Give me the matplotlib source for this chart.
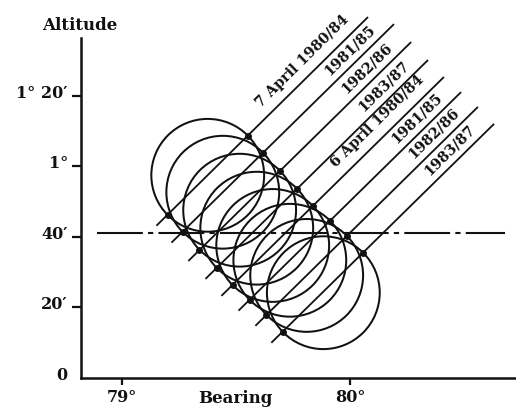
import numpy as np
import matplotlib
matplotlib.use("Agg")
import matplotlib.pyplot as plt
from matplotlib.patches import Ellipse
import matplotlib.transforms as mtransforms

# ---------------- data ----------------
labels = ["7 April 1980/84", "1981/85", "1982/86", "1983/87",
          "6 April 1980/84", "1981/85", "1982/86", "1983/87"]
center_bearing = [79.376, 79.442, 79.516, 79.591, 79.661, 79.736, 79.810, 79.883]
center_alt = [57.5, 52.7, 47.6, 42.5, 37.6, 33.4, 29.1, 24.2]
path_start_bearing = [79.151, 79.217, 79.291, 79.366, 79.436, 79.511, 79.585, 79.655]
path_start_alt = [43.2, 38.4, 33.2, 28.1, 23.3, 19.1, 14.8, 10.0]
path_end_bearing = [80.079, 80.193, 80.268, 80.342, 80.412, 80.487, 80.561, 80.632]
path_end_alt = [102.4, 100.4, 95.3, 90.2, 85.4, 81.1, 76.9, 72.1]
sun_diameter = 32.0          # arcmin
horizon_alt = 41.0           # arcmin
horizon_bearing = [78.89, 80.68]
xticks = [79, 80]
xticklabels = ["79°", "80°"]
yticks = [0, 20, 40, 60, 80]
yticklabels = ["0", "20′", "40′", "1°", "1° 20′"]

# ---------------- figure ----------------
W, H = 516, 412
fig = plt.figure(figsize=(W / 100, H / 100), dpi=100)
ax = fig.add_axes([81 / W, 34 / H, 435 / W, 340 / H])
ax.set_xlim(78.8202, 80.728)
ax.set_ylim(0, 96.45)

font = dict(family="DejaVu Serif", weight="bold")
ink = "#111111"

for s in ["top", "right"]:
    ax.spines[s].set_visible(False)
for s in ["left", "bottom"]:
    ax.spines[s].set_linewidth(1.8)
    ax.spines[s].set_color(ink)

ax.set_xticks(xticks)
ax.set_xticklabels(xticklabels, fontsize=11.5, color=ink, **font)
ax.set_yticks(yticks)
ax.set_yticklabels(yticklabels, fontsize=11.5, color=ink, **font)
ax.tick_params(axis="x", direction="out", length=5, width=1.6, color=ink, pad=3)
ax.tick_params(axis="y", direction="out", length=6.5, width=1.6, color=ink, pad=3)
ax.yaxis.get_major_ticks()[0].tick1line.set_visible(False)
shift = mtransforms.ScaledTranslation(0, 3.5 / 72, fig.dpi_scale_trans)
for lab in ax.get_yticklabels():
    lab.set_transform(lab.get_transform() + shift)

ax.text(-0.002, 1.038, "Altitude", transform=ax.transAxes, ha="center",
        va="center", fontsize=12, color=ink, **font)
ax.text(0.356, -0.059, "Bearing", transform=ax.transAxes, ha="center",
        va="center", fontsize=12, color=ink, clip_on=False, **font)

# horizon (dash-dot)
ax.plot(horizon_bearing, [horizon_alt, horizon_alt], color=ink, lw=1.5,
        linestyle=(0, (22, 2.5, 2.5, 2.5)), clip_on=False)

T = ax.transData
Tinv = T.inverted()
px_deg = T.transform((1, 0))[0] - T.transform((0, 0))[0]
px_min = T.transform((0, 1))[1] - T.transform((0, 0))[1]
R_px = sun_diameter / 2 * px_min
width_deg = sun_diameter * px_min / px_deg

for i in range(len(labels)):
    # sun path
    ax.plot([path_start_bearing[i], path_end_bearing[i]],
            [path_start_alt[i], path_end_alt[i]], color=ink, lw=1.3,
            clip_on=False, solid_capstyle="butt")
    # sun disc
    ax.add_patch(Ellipse((center_bearing[i], center_alt[i]), width_deg,
                         sun_diameter, fill=False, ec=ink, lw=1.45))
    # display geometry of the path
    c = T.transform((center_bearing[i], center_alt[i]))
    e = T.transform((path_end_bearing[i], path_end_alt[i]))
    d = e - c
    L = np.hypot(*d)
    u = d / L
    n = np.array([-u[1], u[0]])
    ang = np.degrees(np.arctan2(u[1], u[0]))
    # dots where path meets its disc
    for sgn in (1, -1):
        pt = Tinv.transform(c + sgn * R_px * u)
        ax.plot(pt[0], pt[1], "o", color=ink, ms=5, mec="none")
    # label
    long_lab = "April" in labels[i]
    along = L - (78 if long_lab else 50)
    perp = 15 if long_lab else 12.5
    pos = Tinv.transform(c + along * u + perp * n)
    ax.text(pos[0], pos[1], labels[i], rotation=ang, rotation_mode="anchor",
            ha="center", va="center", fontsize=10.4, color=ink,
            clip_on=False, **font)

fig.savefig("out.png", dpi=100)
